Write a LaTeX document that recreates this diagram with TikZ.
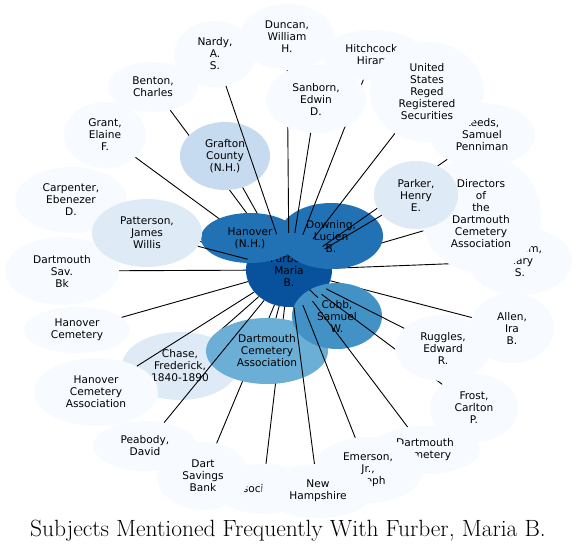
\documentclass[tikz,border=0pt]{standalone}
\usepackage{fontspec}
\newfontfamily\lbl{DejaVu Sans}
\usetikzlibrary{shapes.geometric}
\definecolor{bA}{HTML}{F7FBFF}
\definecolor{bB}{HTML}{DEEBF7}
\definecolor{bC}{HTML}{C6DBEF}
\definecolor{bE}{HTML}{6BAED6}
\definecolor{bF}{HTML}{4292C6}
\definecolor{bG}{HTML}{2171B5}
\definecolor{bH}{HTML}{08519C}
\tikzset{
  nd/.style={ellipse, inner sep=0pt, align=center, fill=bA,
    font=\lbl\fontsize{10.6}{12}\selectfont, text=black},
  ax/.style 2 args={minimum width=#1*2pt, minimum height=#2*2pt},
  edge/.style={draw=black, line width=0.9pt},
}
\begin{document}
\begin{tikzpicture}[x=1pt,y=-1pt]
\useasboundingbox (0,0) rectangle (576,553);
\node[nd, fill=bH, ax={43}{37}] (furber) at (289,270) {Furber,\\Maria\\B.};
\node[nd, ax={52}{34}] (mary) at (520,261) {Putnam,\\Mary\\S.};
\draw[edge] (mary) -- (furber);
\node[nd, ax={60}{59}] (directors) at (481,214) {Directors\\of\\the\\Dartmouth\\Cemetery\\Association};
\draw[edge] (directors) -- (furber);
\node[nd, ax={41}{33}] (grant) at (105,135) {Grant,\\Elaine\\F.};
\draw[edge] (grant) -- (furber);
\node[nd, ax={45}{25}] (benton) at (153,87) {Benton,\\Charles};
\draw[edge] (benton) -- (furber);
\node[nd, fill=bC, ax={45}{34}] (grafton) at (225,156) {Grafton\\County\\(N.H.)};
\draw[edge] (grafton) -- (furber);
\node[nd, ax={56}{33}] (carpenter) at (71,200) {Carpenter,\\Ebenezer\\D.};
\draw[edge] (carpenter) -- (furber);
\node[nd, fill=bG, ax={49}{25}] (hanover) at (250,238) {Hanover\\(N.H.)};
\node[nd, fill=bG, ax={52}{33}] (downing) at (331,236) {Downing,\\Lucien\\B.};
\node[nd, ax={41}{33}] (nardy) at (215,54) {Nardy,\\A.\\S.};
\draw[edge] (nardy) -- (furber);
\node[nd, ax={47}{33}] (duncan) at (287,37) {Duncan,\\William\\H.};
\draw[edge] (duncan) -- (furber);
\node[nd, ax={50}{25}] (hitchcock) at (373,55) {Hitchcock,\\Hiram};
\draw[edge] (hitchcock) -- (furber);
\node[nd, ax={50}{34}] (sanborn) at (316,99) {Sanborn,\\Edwin\\D.};
\draw[edge] (sanborn) -- (furber);
\node[nd, ax={53}{32}] (leeds) at (482,135) {Leeds,\\Samuel\\Penniman};
\draw[edge] (leeds) -- (furber);
\node[nd, ax={57}{50}] (us) at (427,92) {United\\States\\Reged\\Registered\\Securities};
\draw[edge] (us) -- (furber);
\node[nd, fill=bB, ax={42}{34}] (parker) at (416,195) {Parker,\\Henry\\E.};
\draw[edge] (parker) -- (furber);
\node[nd, ax={57}{34}] (dsvb) at (62,271) {Dartmouth\\Sav.\\Bk};
\draw[edge] (dsvb) -- (furber);
\node[nd, fill=bB, ax={55}{34}] (patterson) at (147,233) {Patterson,\\James\\Willis};
\draw[edge] (patterson) -- (furber);
\node[nd, ax={53}{23}] (hancem) at (77,330) {Hanover\\Cemetery};
\draw[edge] (hancem) -- (furber);
\node[nd, fill=bB, ax={58}{34}] (chase) at (180,366) {Chase,\\Frederick,\\1840-1890};
\draw[edge] (chase) -- (furber);
\node[nd, ax={45}{25}] (assoc) at (263,489) {Associations};
\draw[edge] (assoc) -- (furber);
\node[nd, ax={46}{34}] (dsb) at (203,476) {Dart\\Savings\\Bank};
\draw[edge] (dsb) -- (furber);
\node[nd, fill=bE, ax={61}{33}] (dca) at (267,351) {Dartmouth\\Cemetery\\Association};
\draw[edge] (dca) -- (furber);
\node[nd, ax={62}{34}] (hca) at (96,392) {Hanover\\Cemetery\\Association};
\draw[edge] (hca) -- (furber);
\node[nd, ax={52}{25}] (peabody) at (145,446) {Peabody,\\David};
\draw[edge] (peabody) -- (furber);
\node[nd, ax={42}{35}] (allen) at (512,328) {Allen,\\Ira\\B.};
\draw[edge] (allen) -- (furber);
\node[nd, fill=bF, ax={45}{33}] (cobb) at (337,316) {Cobb,\\Samuel\\W.};
\draw[edge] (cobb) -- (furber);
\node[nd, ax={44}{34}] (frost) at (474,408) {Frost,\\Carlton\\P.};
\draw[edge] (frost) -- (furber);
\node[nd, ax={48}{33}] (ruggles) at (443,348) {Ruggles,\\Edward\\R.};
\draw[edge] (ruggles) -- (furber);
\node[nd, ax={55}{24}] (dcbr) at (425,450) {Dartmouth\\Cemetery};
\draw[edge] (dcbr) -- (furber);
\node[nd, ax={55}{33}] (emerson) at (368,470) {Emerson,\\Jr.,\\Joseph};
\draw[edge] (emerson) -- (furber);
\node[nd, ax={56}{27}] (nh) at (318,491) {New\\Hampshire};
\draw[edge] (nh) -- (furber);
\node[font=\fontsize{23.5}{28}\selectfont, inner sep=0pt] (title) at (288,531) {Subjects Mentioned Frequently With Furber, Maria B.};
\end{tikzpicture}
\end{document}
